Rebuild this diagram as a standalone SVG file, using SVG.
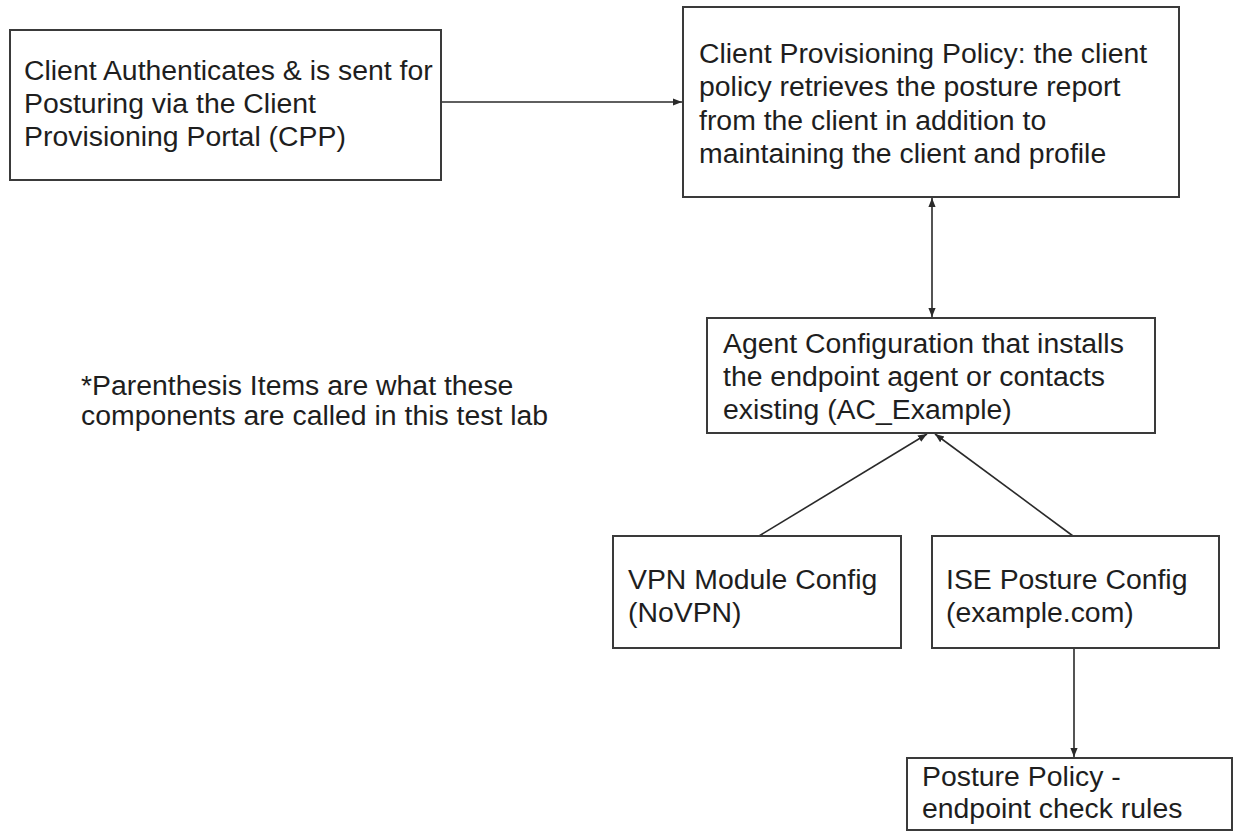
<svg xmlns="http://www.w3.org/2000/svg" width="1240" height="831" viewBox="0 0 1240 831">
  <style>
    .box { fill: #ffffff; stroke: #3a3a3a; stroke-width: 2; }
    .lbl { font-family: "Liberation Sans", Arial, sans-serif; font-size: 28.4px; fill: #1e1e1e; }
    .edge { stroke: #2a2a2a; stroke-width: 1.6; fill: none; }
  </style>
  <defs>
    <marker id="head" viewBox="0 0 10 10" refX="10" refY="5" markerWidth="9" markerHeight="9" markerUnits="userSpaceOnUse" orient="auto-start-reverse">
      <path d="M0,1 L10,5 L0,9 Z" fill="#2a2a2a"/>
    </marker>
  </defs>
  <rect width="1240" height="831" fill="#ffffff"/>

  <g id="connectors">
    <line class="edge" x1="441" y1="102" x2="682" y2="102" marker-end="url(#head)"/>
    <line class="edge" x1="932" y1="198" x2="932" y2="317" marker-start="url(#head)" marker-end="url(#head)"/>
    <line class="edge" x1="759" y1="536" x2="927" y2="434" marker-end="url(#head)"/>
    <line class="edge" x1="1073" y1="536" x2="935" y2="434" marker-end="url(#head)"/>
    <line class="edge" x1="1074" y1="648" x2="1074" y2="757" marker-end="url(#head)"/>
  </g>

  <g id="cpp">
    <rect class="box" x="10" y="30" width="431" height="150"/>
    <text class="lbl" x="24" y="80">Client Authenticates &amp; is sent for</text>
    <text class="lbl" x="24" y="113">Posturing via the Client</text>
    <text class="lbl" x="24" y="146">Provisioning Portal (CPP)</text>
  </g>

  <g id="provisioning-policy">
    <rect class="box" x="683" y="7" width="496" height="190"/>
    <text class="lbl" x="699" y="63">Client Provisioning Policy: the client</text>
    <text class="lbl" x="699" y="96">policy retrieves the posture report</text>
    <text class="lbl" x="699" y="129.5">from the client in addition to</text>
    <text class="lbl" x="699" y="163">maintaining the client and profile</text>
  </g>

  <g id="note">
    <text class="lbl" x="81" y="395">*Parenthesis Items are what these</text>
    <text class="lbl" x="81" y="425">components are called in this test lab</text>
  </g>

  <g id="agent-config">
    <rect class="box" x="707" y="318" width="448" height="115"/>
    <text class="lbl" x="723" y="353">Agent Configuration that installs</text>
    <text class="lbl" x="723" y="386">the endpoint agent or contacts</text>
    <text class="lbl" x="723" y="419">existing (AC_Example)</text>
  </g>

  <g id="vpn-module">
    <rect class="box" x="613" y="536" width="288" height="112"/>
    <text class="lbl" x="628" y="589">VPN Module Config</text>
    <text class="lbl" x="628" y="622">(NoVPN)</text>
  </g>

  <g id="ise-posture">
    <rect class="box" x="932" y="536" width="287" height="112"/>
    <text class="lbl" x="946" y="589">ISE Posture Config</text>
    <text class="lbl" x="946" y="622">(example.com)</text>
  </g>

  <g id="posture-policy">
    <rect class="box" x="907" y="758" width="325" height="72"/>
    <text class="lbl" x="922" y="786">Posture Policy -</text>
    <text class="lbl" x="922" y="818">endpoint check rules</text>
  </g>
</svg>
